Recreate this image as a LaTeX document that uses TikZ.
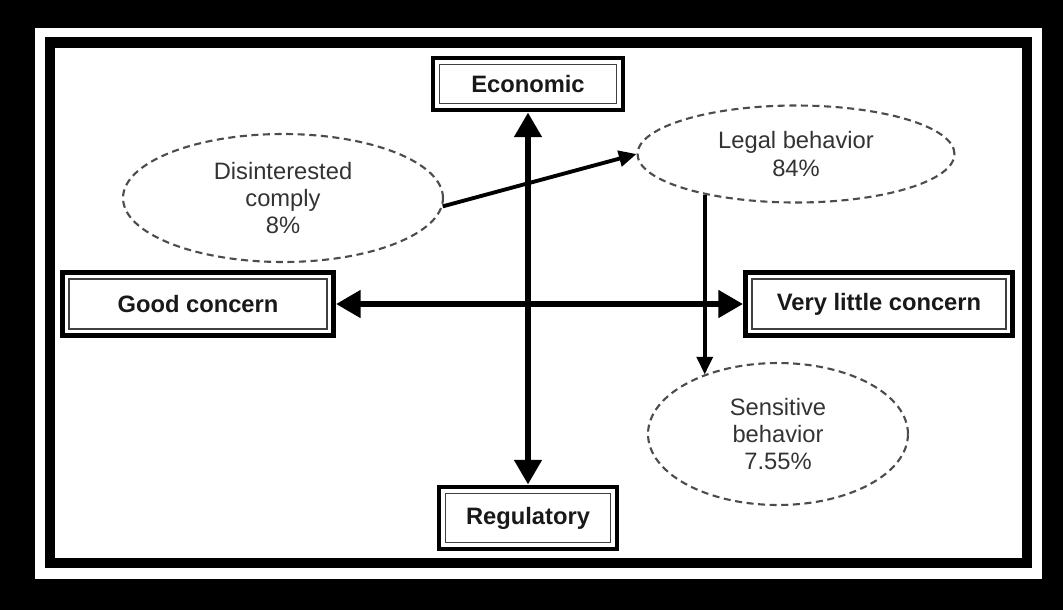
\documentclass[tikz,border=0pt]{standalone}
\usepackage{fontspec}
\setmainfont{Liberation Sans}
\usetikzlibrary{arrows.meta, shapes.geometric, positioning}

\begin{document}
\begin{tikzpicture}[x=0.02cm, y=-0.02cm,
    concern/.style={draw, line width=2.8pt, fill=white, inner sep=0pt, text=black!90,
      font=\fontsize{13.5}{16}\selectfont\bfseries,
      path picture={\draw[line width=0.8pt, black!75]
        ([shift={(3.6pt,3.6pt)}]path picture bounding box.south west) rectangle
        ([shift={(-3.6pt,-3.6pt)}]path picture bounding box.north east);}},
    group/.style={ellipse, draw=black!70, dash pattern=on 4pt off 2.6pt, line width=1.2pt,
      inner sep=0pt, align=center, text=black!80, font=\fontsize{13.5}{15.5}\selectfont},
    bigarrow/.style={{Triangle[length=14pt,width=15pt]}-{Triangle[length=14pt,width=15pt]}, line width=3.8pt},
    linkarrow/.style={-{Triangle[length=10pt,width=9pt]}, line width=2.2pt}]

    % Draw the frame (black, white band, black border, inner area)
    \fill[black] (0,0) rectangle (1063,610);
    \fill[white] (35,28) rectangle (1042,579);
    \fill[black] (45,37) rectangle (1032,568);
    \fill[white] (55,48) rectangle (1022,558);

    % Place the four concern boxes
    \node[concern, minimum width=3.8cm, minimum height=1.04cm] (Economic) at (528,84) {Economic};
    \node[concern, minimum width=3.56cm, minimum height=1.24cm] (Regulatory) at (528,518) {Regulatory};
    \node[concern, minimum width=5.42cm, minimum height=1.26cm] (Good) at (198,304) {Good concern};
    \node[concern, minimum width=5.34cm, minimum height=1.26cm] (Little) at (879,304) {Very little concern};

    % Draw the two axes
    \draw[bigarrow] (Economic) -- (Regulatory);
    \draw[bigarrow] (Good) -- (Little);

    % Define the three behaviour groups
    \node[group, minimum width=6.4cm, minimum height=2.56cm] (Comply) at (283,198) {Disinterested\\comply\\8\%};
    \node[group, minimum width=6.34cm, minimum height=1.94cm] (Legal) at (796,154) {Legal behavior\\84\%};
    \node[group, minimum width=5.2cm, minimum height=2.84cm] (Sensitive) at (778,434) {Sensitive\\behavior\\7.55\%};

    % Draw arrows between the groups
    \draw[linkarrow] (Comply.-3) -- (Legal.west);
    \draw[linkarrow] (Legal.204) -- (Legal.204 |- Sensitive.141);

\end{tikzpicture}
\end{document}
